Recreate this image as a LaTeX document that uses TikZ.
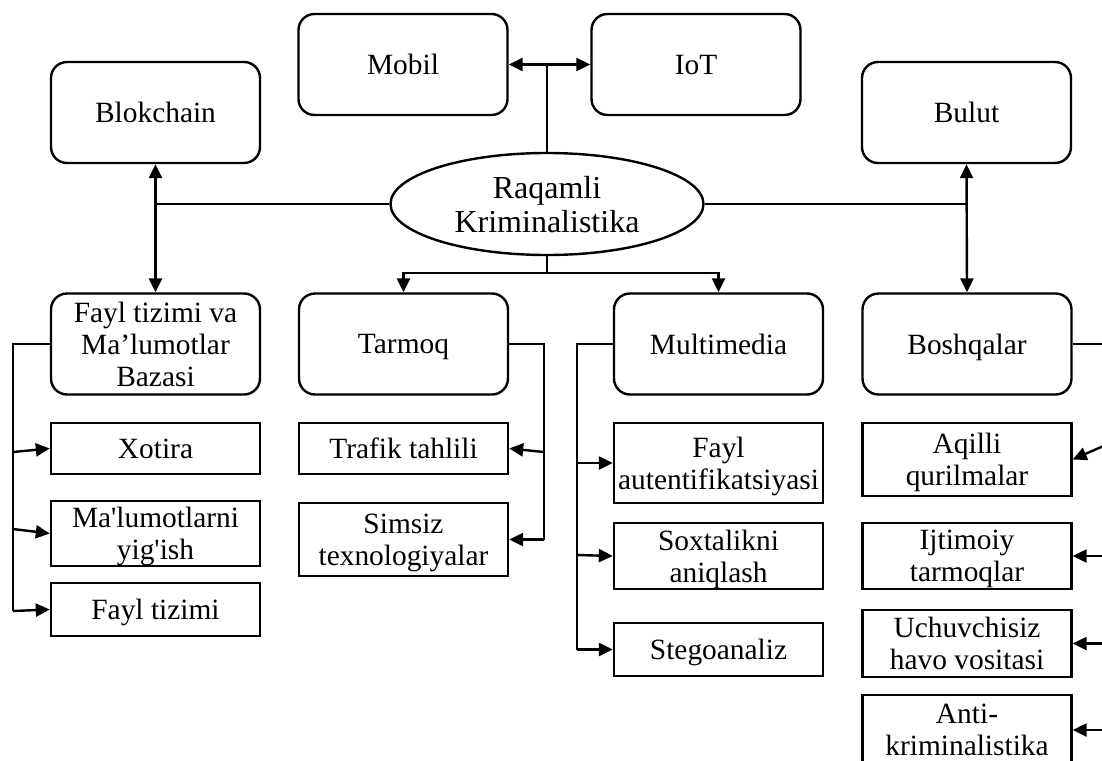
\documentclass[tikz,border=0pt]{standalone}
\usepackage{fontspec}
\setmainfont{Liberation Serif}
\usetikzlibrary{shapes.geometric}
\usetikzlibrary{arrows.meta}

\begin{document}
\begin{tikzpicture}[x=0.5pt,y=-0.5pt,line width=1.2pt,
  >={Triangle[length=7pt,width=6.5pt]},
  every node/.style={draw,align=center,inner sep=1pt,font=\fontsize{14.7}{16}\selectfont,
    text depth=0pt},
  branch/.style={rounded corners=8pt,minimum width=104.5pt,minimum height=50.5pt},
  leaf/.style={minimum width=104.5pt,minimum height=#1}]
  \path[use as bounding box,clip] (0,0) rectangle (1102,760);

  % markaz
  \node[ellipse,inner sep=0pt,minimum width=156.5pt,minimum height=51pt,
        font=\fontsize{16}{17}\selectfont] (R) at (547,204) {Raqamli\\Kriminalistika};

  % yuqori qator
  \node[branch] (Blok) at (155.5,112.5) {Blokchain};
  \node[branch] (Mobil) at (403,64.5) {Mobil};
  \node[branch] (IoT) at (696,64.5) {IoT};
  \node[branch] (Bulut) at (966.5,112.5) {Bulut};

  % ikkinchi qator
  \node[branch] (FaylDB) at (155.5,344) {Fayl tizimi va\\Ma’lumotlar\\Bazasi};
  \node[branch] (Tarmoq) at (403.5,344) {Tarmoq};
  \node[branch] (Multi) at (718.5,344) {Multimedia};
  \node[branch] (Boshq) at (967,344) {Boshqalar};

  % bo'limlar
  \node[leaf=25.5pt] (Xotira) at (155.5,448.5) {Xotira};
  \node[leaf=32.5pt] (Yigish) at (155.5,533.5) {Ma\textquotesingle lumotlarni\\yig\textquotesingle ish};
  \node[leaf=26.5pt] (FaylT) at (155.5,609.5) {Fayl tizimi};
  \node[leaf=25.5pt] (Trafik) at (403.5,448.5) {Trafik tahlili};
  \node[leaf=36.5pt] (Simsiz) at (403.5,539.5) {Simsiz\\texnologiyalar};
  \node[leaf=40pt] (FaylA) at (718.5,463) {Fayl\\autentifikatsiyasi};
  \node[leaf=33pt] (Soxta) at (718.5,556) {Soxtalikni\\aniqlash};
  \node[leaf=26.5pt] (Stego) at (718.5,649.5) {Stegoanaliz};
  \node[leaf=36.5pt] (Aqilli) at (967,459.5) {Aqilli\\qurilmalar};
  \node[leaf=33pt] (Ijtim) at (967,556) {Ijtimoiy\\tarmoqlar};
  \node[leaf=33.5pt] (Uchuv) at (967,643.5) {Uchuvchisiz\\havo vositasi};
  \node[leaf=35pt] (Anti) at (967,730) {Anti-\\kriminalistika};

  % markazdan
  \coordinate (jt) at (547,64.5);
  \coordinate (jl) at (155.5,204);
  \coordinate (jr) at (966.5,204);
  \coordinate (jb) at (547,273);
  \draw (R.north) -- (jt);
  \draw[->] (jt) -- (Mobil.east);
  \draw[->] (jt) -- (IoT.west);
  \draw (R.west) -- (jl);
  \draw (R.east) -- (jr);
  \draw[<->] (Blok.south) -- (FaylDB.north);
  \draw[<->] (Bulut.south) -- (Boshq.north);
  \draw (R.south) -- (jb);
  \draw[->] (jb) -| (Tarmoq.north);
  \draw[->] (jb) -| (Multi.north);

  % ustunlar
  \draw (FaylDB.west) -| (13,611);
  \foreach \y/\n in {452/Xotira,529/Yigish,611/FaylT}{\draw[->] (13,\y) -- (\n.west);}
  \draw (Tarmoq.east) -| (544,539.5);
  \foreach \y/\n in {452/Trafik,539.5/Simsiz}{\draw[->] (544,\y) -- (\n.east);}
  \draw (Multi.west) -| (577,649.5);
  \foreach \y/\n in {463/FaylA,555/Soxta,649.5/Stego}{\draw[->] (577,\y) -- (\n.west);}
  \draw (Boshq.east) -| (1108,730);
  \foreach \y/\n in {444/Aqilli,556/Ijtim,643.5/Uchuv,730/Anti}{\draw[->] (1108,\y) -- (\n.east);}
\end{tikzpicture}
\end{document}
